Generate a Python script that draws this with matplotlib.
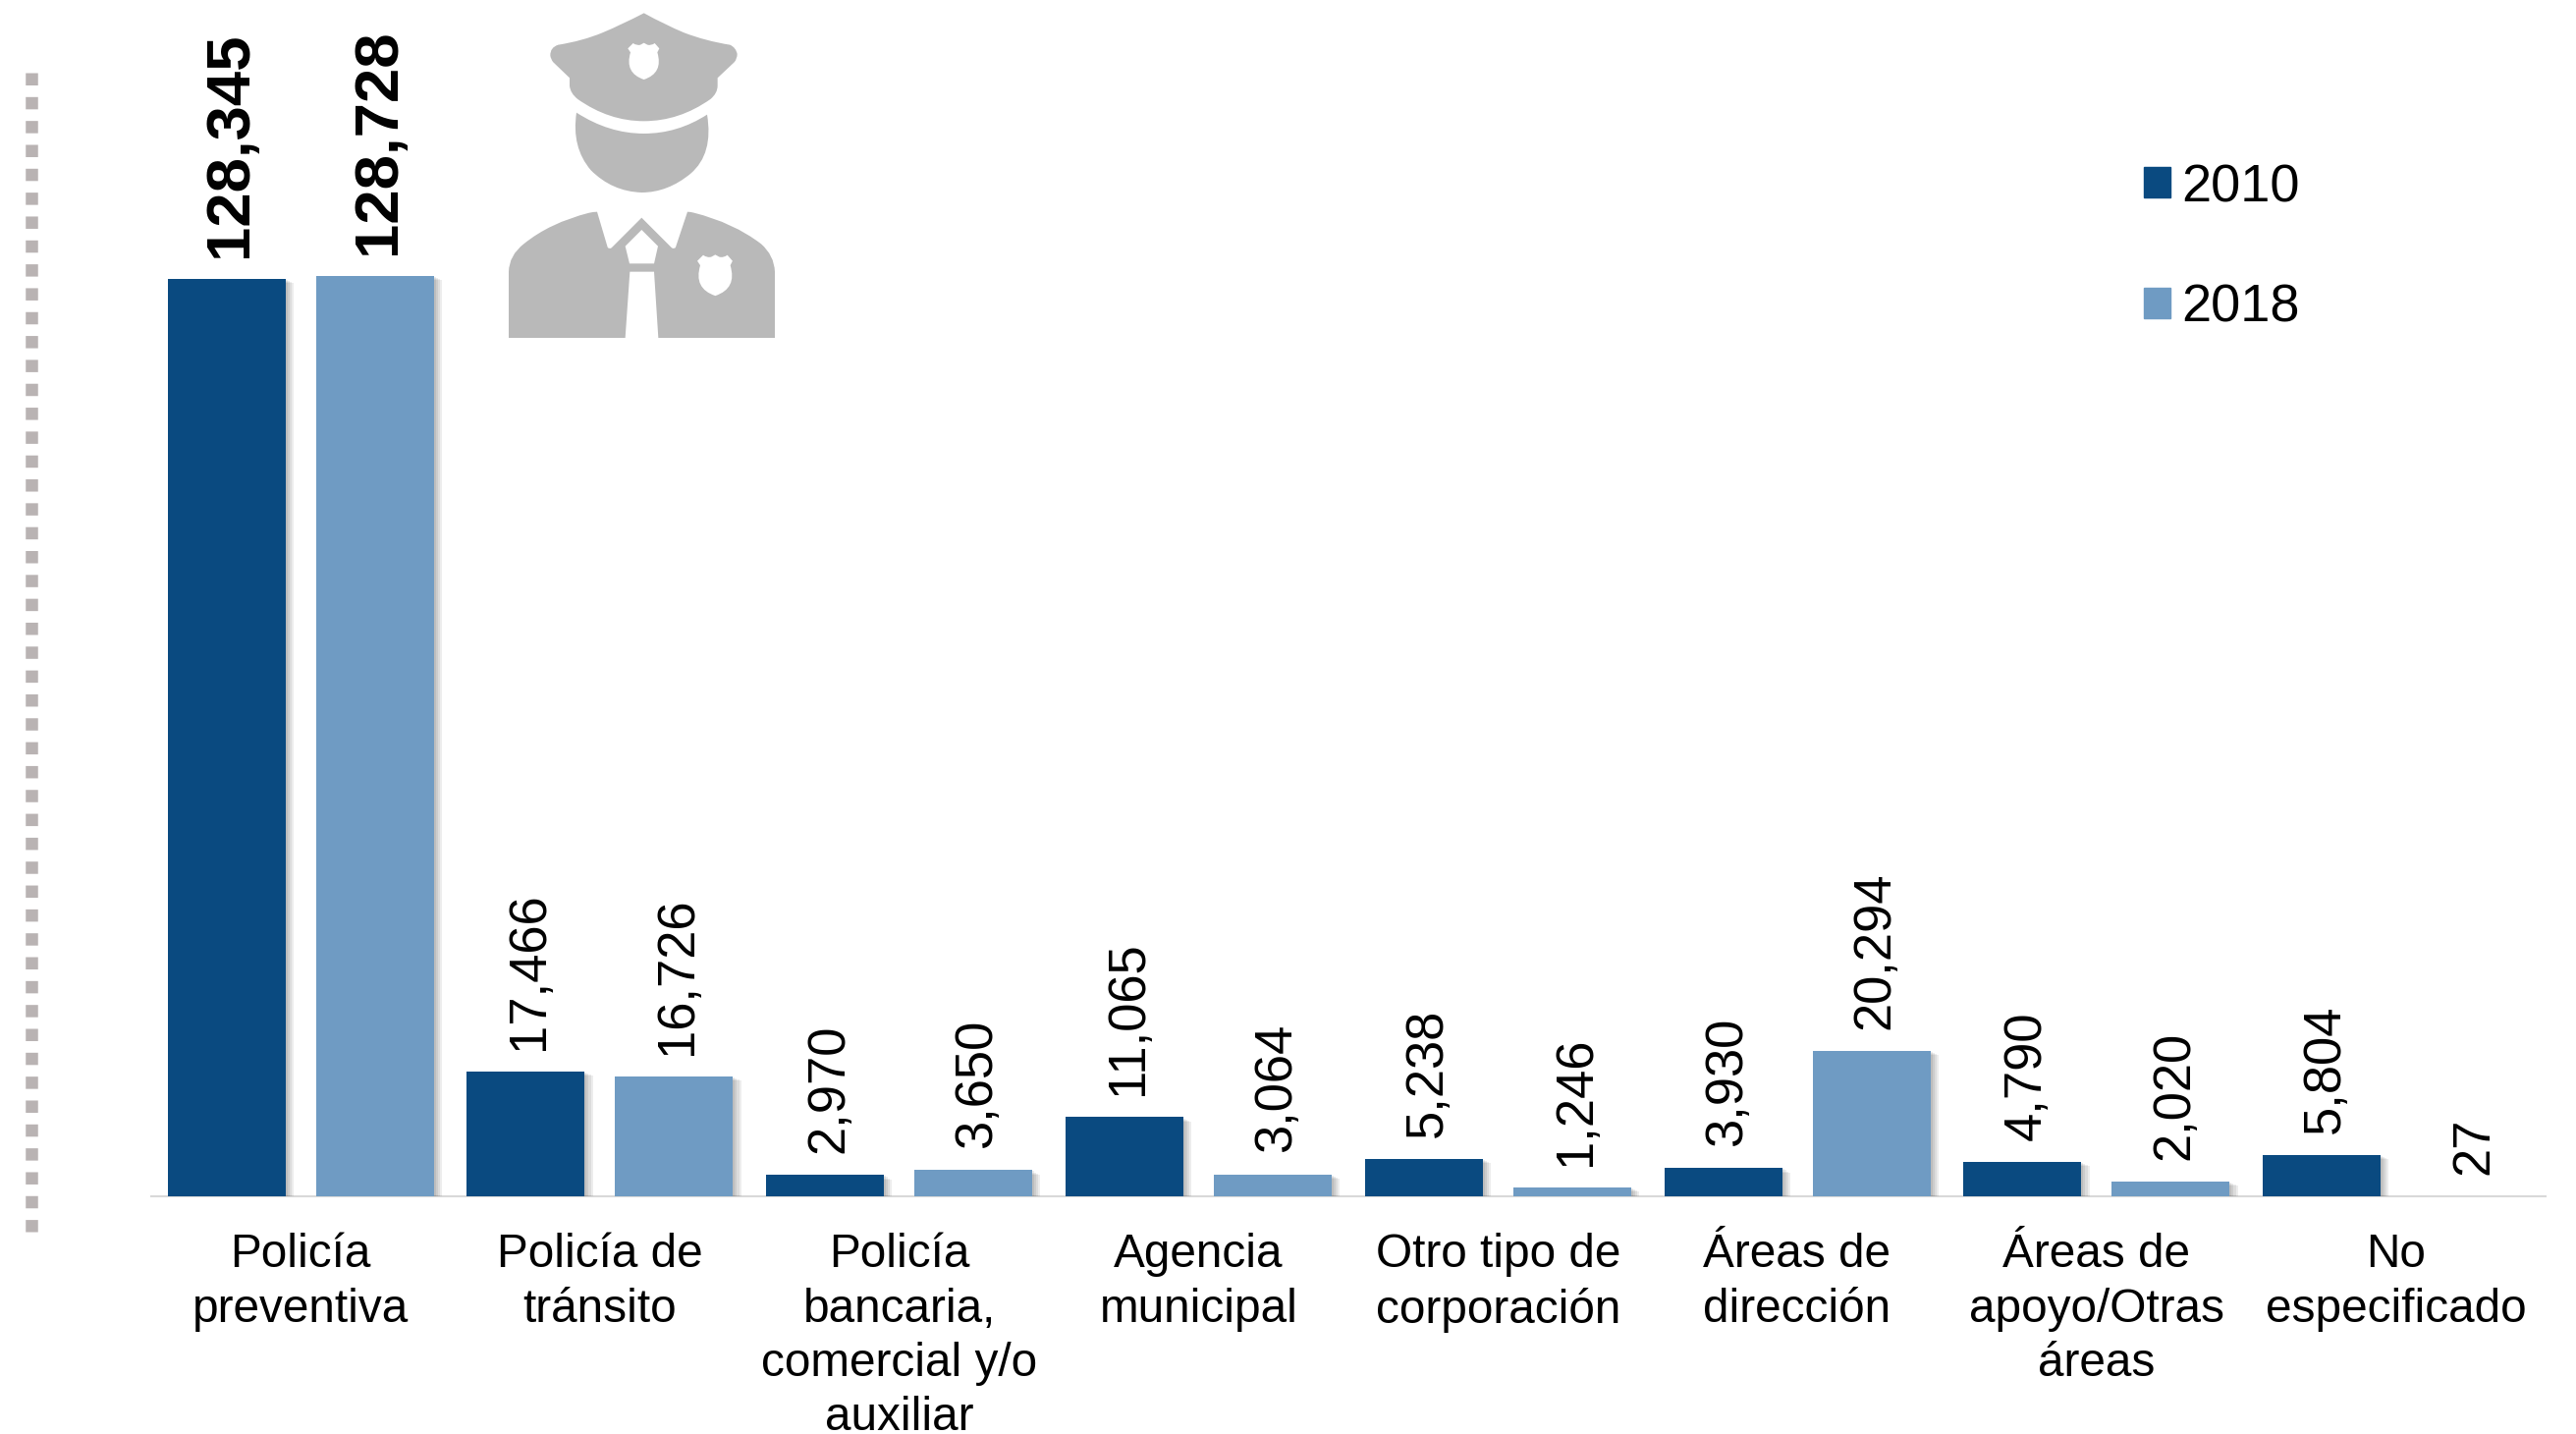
import matplotlib
matplotlib.use("Agg")
import matplotlib.pyplot as plt
import numpy as np
from matplotlib.lines import Line2D
from matplotlib.patches import PathPatch, Patch
from matplotlib.path import Path
from matplotlib.transforms import Affine2D
import matplotlib.patheffects as pe

plt.rcParams["font.family"] = ["Liberation Sans", "DejaVu Sans"]

categorias = ["Policía\npreventiva", "Policía de\ntránsito", "Policía\nbancaria,\ncomercial y/o\nauxiliar",
              "Agencia\nmunicipal", "Otro tipo de\ncorporación", "Áreas de\ndirección",
              "Áreas de\napoyo/Otras\náreas", "No\nespecificado"]
valores_2010 = [128345, 17466, 2970, 11065, 5238, 3930, 4790, 5804]
valores_2018 = [128728, 16726, 3650, 3064, 1246, 20294, 2020, 27]

AZUL = "#0a4a80"
CELESTE = "#6f9bc3"
GRIS = "#b9b9b9"
W, H = 2623, 1460


def icon_patch(cmds, color, z=5):
    # cmds are in zoom pixels of the icon crop
    verts, codes = [], []
    for c in cmds:
        if c[0] == "M":
            verts.append(c[1]); codes.append(Path.MOVETO)
        elif c[0] == "L":
            verts.append(c[1]); codes.append(Path.LINETO)
        else:
            verts += [c[1], c[2]]; codes += [Path.CURVE3, Path.CURVE3]
    verts.append(verts[0]); codes.append(Path.CLOSEPOLY)
    tr = Affine2D().scale(1 / 3, -1 / 3).translate(480, H)
    return PathPatch(Path(verts, codes), facecolor=color, edgecolor="none", transform=tr, zorder=z)


def badge(cx, top, s):
    pts = [("M", (-49, 17)), ("L", (-33, 1)), ("Q", (-22, 9), (-11, 6)), ("L", (0, 0)), ("L", (11, 6)),
           ("Q", (22, 9), (33, 1)), ("L", (47, 17)), ("L", (41, 29)), ("Q", (60, 92), (0, 112)),
           ("Q", (-60, 92), (-41, 29))]
    out = []
    for p in pts:
        out.append((p[0],) + tuple((cx + s * q[0], top + s * q[1]) for q in p[1:]))
    return out


gorra = [("M", (527, 40)), ("Q", (460, 75), (400, 100)), ("Q", (340, 125), (265, 137)), ("Q", (240, 145), (241, 170)),
         ("Q", (243, 182), (250, 190)), ("L", (300, 238)), ("L", (300, 262)), ("Q", (302, 285), (325, 303)),
         ("Q", (420, 370), (527, 370)), ("Q", (635, 370), (730, 303)), ("Q", (752, 285), (752, 262)),
         ("L", (752, 238)), ("L", (803, 190)), ("Q", (812, 180), (812, 165)), ("Q", (808, 145), (790, 137)),
         ("Q", (715, 125), (650, 100)), ("Q", (590, 75), (527, 40))]
cara = [("M", (321, 344)), ("Q", (420, 408), (527, 408)), ("Q", (630, 408), (720, 350)), ("Q", (740, 470), (670, 530)),
        ("Q", (600, 588), (520, 588)), ("Q", (430, 585), (365, 520)), ("Q", (305, 450), (321, 344))]
cuerpo = [("M", (384, 647)), ("L", (416, 755)), ("Q", (420, 762), (428, 757)), ("L", (520, 665)), ("L", (612, 757)),
          ("Q", (620, 762), (624, 755)), ("L", (660, 647)), ("Q", (670, 647), (680, 650)), ("Q", (800, 680), (885, 745)),
          ("Q", (925, 780), (927, 830)), ("L", (927, 1032)), ("L", (571, 1032)), ("L", (558, 830)), ("L", (484, 830)),
          ("L", (470, 1032)), ("L", (114, 1032)), ("L", (114, 830)), ("Q", (115, 780), (160, 745)),
          ("Q", (240, 680), (360, 650)), ("Q", (372, 647), (384, 647))]
nudo = [("M", (520, 702)), ("L", (570, 752)), ("L", (558, 805)), ("L", (483, 805)), ("L", (470, 752))]

fig = plt.figure(figsize=(W / 100, H / 100), dpi=100, facecolor="white")
ax = fig.add_axes([153.6 / W, 1 - 1218 / H, (2592 - 153.6) / W, 1218 / H])

x = np.arange(len(categorias))
ancho = 120 / 304.8
despl = 75.5 / 304.8

sombra = [pe.SimplePatchShadow(offset=(k, -k * 0.5), shadow_rgbFace="black", alpha=0.07) for k in (6, 4.5, 3, 1.5)]
for vals, col, d in [(valores_2010, AZUL, -despl), (valores_2018, CELESTE, despl)]:
    bars = ax.bar(x + d, vals, ancho, color=col, zorder=3)
    for b, v in zip(bars, vals):
        if v > 100:
            b.set_path_effects(sombra + [pe.Normal()])
    for i, v in enumerate(vals):
        grande = i == 0
        ax.annotate(f"{v:,}", (i + d, v), xytext=(3, 16), textcoords="offset points", rotation=90,
                    ha="center", va="bottom", fontsize=45.7 if grande else 37.8,
                    fontweight="bold" if grande else "normal", color="black", zorder=4)

ax.set_xlim(-0.5, len(categorias) - 0.5)
ax.set_ylim(0, 1218 * 128345 / 934)
ax.set_yticks([])
ax.set_xticks(x)
ax.set_xticklabels(categorias, fontsize=34.4, color="black", linespacing=1.29)
ax.tick_params(axis="x", length=0, pad=27)
for s in ["top", "left", "right"]:
    ax.spines[s].set_visible(False)
ax.spines["bottom"].set_color("#d9d9d9")
ax.spines["bottom"].set_linewidth(1.5)
ax.patch.set_alpha(0)

ley = ax.legend(handles=[Patch(color=AZUL, label="2010"), Patch(color=CELESTE, label="2018")],
                loc="upper left", bbox_to_anchor=(2183 / W, 1 - 166 / H), bbox_transform=fig.transFigure,
                frameon=False, fontsize=39, handlelength=0.5, handleheight=0.5, handletextpad=0.2,
                labelspacing=1.34, borderpad=0, borderaxespad=0)

# dotted bar on the left edge
fig.add_artist(Line2D([31.7 / W, 31.7 / W], [1 - 74 / H, 1 - 1254 / H], color="#b9b3b3", lw=9,
                      linestyle=(0, (1, 0.946)), dash_capstyle="butt", transform=fig.transFigure))

# police icon
for forma, col, z in [(gorra, GRIS, 5), (cara, GRIS, 5), (cuerpo, GRIS, 5), (nudo, "white", 6),
                      (badge(527, 131, 1), "white", 6), (badge(745, 778, 1.12), "white", 6)]:
    fig.add_artist(icon_patch(forma, col, z))

fig.savefig("out.png", dpi=100, facecolor="white")
